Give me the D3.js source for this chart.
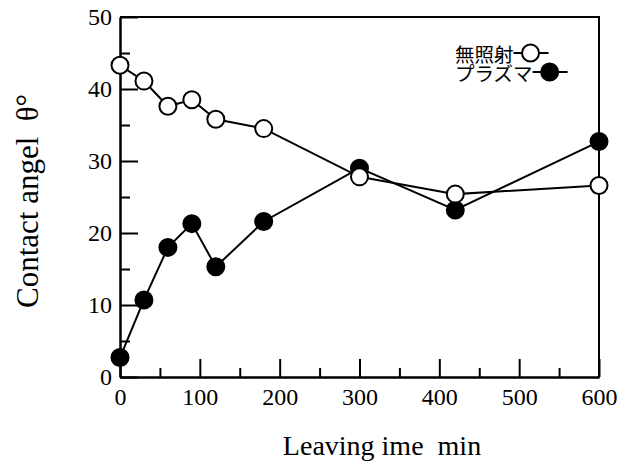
<!DOCTYPE html>
<html>
<head>
<meta charset="utf-8">
<script src="https://cdn.jsdelivr.net/npm/d3@7"></script>
<style>
body { margin: 0; background: #fff; }
</style>
</head>
<body>
<div id="graph"></div>
<script>
// data
const times = [0, 30, 60, 90, 120, 180, 300, 420, 600];
const nonIrradiated = [43.3, 41.1, 37.6, 38.5, 35.8, 34.5, 27.8, 25.4, 26.6];
const plasma = [2.7, 10.7, 18.0, 21.3, 15.3, 21.6, 29.0, 23.2, 32.7];
const seriesNames = ["無照射", "プラズマ"];
const xTicks = [0, 100, 200, 300, 400, 500, 600];
const xMinor = [50, 150, 250, 350, 450, 550];
const yTicks = [0, 10, 20, 30, 40, 50];
const yMinor = [5, 15, 25, 35, 45];

const w = 628;
const h = 461;
const svg = d3.select("#graph")
  .append("svg")
  .attr("width", w)
  .attr("height", h);

const xScale = d3.scaleLinear().domain([0, 600]).range([120, 599]);
const yScale = d3.scaleLinear().domain([0, 50]).range([377, 17]);

// frame top + right
svg.append("path")
  .attr("d", "M" + xScale(0) + "," + yScale(50) + "H" + xScale(600) + "V" + yScale(0))
  .attr("fill", "none")
  .attr("stroke", "#000")
  .attr("stroke-width", 2);

// axes, ticks pointing inward
function styleAxis(g) {
  g.selectAll("path, line").attr("stroke", "#000").attr("stroke-width", 2);
  g.selectAll("text")
    .attr("fill", "#000")
    .style("font-family", "'Liberation Serif', 'Times New Roman', serif")
    .style("font-size", "24px");
}
svg.append("g")
  .attr("transform", "translate(0," + yScale(0) + ")")
  .call(d3.axisBottom(xScale).tickValues(xTicks).tickSize(-18).tickSizeOuter(0).tickPadding(11))
  .call(styleAxis);
svg.append("g")
  .attr("transform", "translate(0," + yScale(0) + ")")
  .call(d3.axisBottom(xScale).tickValues(xMinor).tickSize(-9).tickSizeOuter(0).tickFormat(""))
  .call(styleAxis);
svg.append("g")
  .attr("transform", "translate(" + xScale(0) + ",0)")
  .call(d3.axisLeft(yScale).tickValues(yTicks).tickSize(-18).tickSizeOuter(0).tickPadding(8))
  .call(styleAxis);
svg.append("g")
  .attr("transform", "translate(" + xScale(0) + ",0)")
  .call(d3.axisLeft(yScale).tickValues(yMinor).tickSize(-10).tickSizeOuter(0).tickFormat(""))
  .call(styleAxis);

// axis titles
svg.append("text")
  .attr("x", 382).attr("y", 455)
  .attr("text-anchor", "middle")
  .style("white-space", "pre")
  .style("font-family", "'Liberation Serif', serif")
  .style("font-size", "28px")
  .text("Leaving ime  min");

svg.append("text")
  .attr("transform", "translate(38,201) rotate(-90)")
  .attr("text-anchor", "middle")
  .style("white-space", "pre")
  .style("font-family", "'Liberation Serif', serif")
  .style("font-size", "31px")
  .text("Contact angel  θ°");

// series: plasma drawn first so the open circles sit on top
const line = d3.line().x((d, i) => xScale(times[i])).y(d => yScale(d));
const series = [
  { values: plasma, fill: "#000" },
  { values: nonIrradiated, fill: "#fff" }
];
series.forEach(s => {
  svg.append("path")
    .attr("d", line(s.values))
    .attr("fill", "none")
    .attr("stroke", "#000")
    .attr("stroke-width", 2);
  svg.selectAll(null)
    .data(s.values)
    .enter()
    .append("circle")
    .attr("cx", (d, i) => xScale(times[i]))
    .attr("cy", d => yScale(d))
    .attr("r", 8.5)
    .attr("fill", s.fill)
    .attr("stroke", "#000")
    .attr("stroke-width", 2);
});

// legend
const legendFills = ["#fff", "#000"];
seriesNames.forEach((name, i) => {
  const y = 53 + i * 19;
  const t = svg.append("text")
    .attr("x", 455).attr("y", y)
    .attr("dominant-baseline", "central")
    .style("font-family", "'Noto Sans CJK JP', sans-serif")
    .style("font-size", "19.5px")
    .text(name);
  const end = 455 + t.node().getComputedTextLength();
  svg.append("line")
    .attr("x1", end).attr("x2", end + 35)
    .attr("y1", y).attr("y2", y)
    .attr("stroke", "#000")
    .attr("stroke-width", 2);
  svg.append("circle")
    .attr("cx", end + 17).attr("cy", y)
    .attr("r", 8.5)
    .attr("fill", legendFills[i])
    .attr("stroke", "#000")
    .attr("stroke-width", 2);
});
</script>
</body>
</html>
